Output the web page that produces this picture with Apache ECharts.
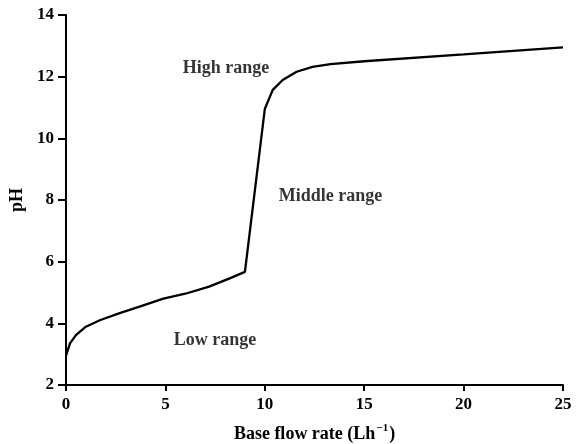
<!DOCTYPE html>
<html>
<head>
<meta charset="utf-8">
<script src="https://cdn.jsdelivr.net/npm/echarts@6/dist/echarts.min.js"></script>
<style>
  html, body { margin: 0; padding: 0; background: #fff; }
  #chart { width: 579px; height: 444px; }
</style>
</head>
<body>
<div id="chart"></div>
<script>
// base flow rate (L/h) and pH
const flowRate = [0, 0.2, 0.5, 1, 1.7, 2.7, 3.7, 4.9, 6, 7.2, 8.2, 9, 10, 10.4, 10.9, 11.6, 12.4, 13.3, 15, 20, 25]
const phValues = [2.95, 3.35, 3.62, 3.89, 4.1, 4.33, 4.54, 4.8, 4.96, 5.19, 5.45, 5.67, 10.95, 11.57, 11.89, 12.16, 12.32, 12.41, 12.5, 12.72, 12.95]

// region labels, placed in data coordinates
const regionNames = ['High range', 'Middle range', 'Low range']
const regionX = [8.05, 13.3, 7.5]
const regionY = [12.28, 8.13, 3.46]

const xTicks = [0, 5, 10, 15, 20, 25]
const yTicks = [2, 4, 6, 8, 10, 12, 14]

const font = 'Liberation Serif'
const chart = echarts.init(document.getElementById('chart'))

const lineData = flowRate.map((x, i) => [x, phValues[i]])
const labelData = regionNames.map((name, i) => ({ name, value: [regionX[i], regionY[i]] }))

chart.setOption({
  animation: false,
  grid: { left: 66, right: 16, top: 15, bottom: 59, outerBoundsMode: 'none', containLabel: false },
  xAxis: {
    type: 'value',
    min: xTicks[0],
    max: xTicks[xTicks.length - 1],
    interval: 5,
    name: 'Base flow rate (Lh{sup|−1})',
    nameLocation: 'middle',
    nameGap: 38,
    nameTextStyle: {
      fontFamily: font, fontSize: 18, fontWeight: 'bold', color: '#000',
      rich: { sup: { fontFamily: font, fontSize: 11, fontWeight: 'bold', color: '#000', verticalAlign: 'top', padding: [0, 1, 11, 1] } }
    },
    axisLine: { lineStyle: { color: '#000', width: 2 } },
    axisTick: { show: true, length: 6, lineStyle: { color: '#000', width: 2 } },
    axisLabel: { fontFamily: font, fontSize: 17, fontWeight: 'bold', color: '#000', margin: 11 },
    splitLine: { show: false }
  },
  yAxis: {
    type: 'value',
    min: yTicks[0],
    max: yTicks[yTicks.length - 1],
    interval: 2,
    name: 'pH',
    nameLocation: 'middle',
    nameGap: 38,
    nameTextStyle: { fontFamily: font, fontSize: 18, fontWeight: 'bold', color: '#000' },
    axisLine: { show: true, lineStyle: { color: '#000', width: 2 } },
    axisTick: { show: true, length: 8, lineStyle: { color: '#000', width: 2 } },
    axisLabel: { fontFamily: font, fontSize: 17, fontWeight: 'bold', color: '#000', margin: 12 },
    splitLine: { show: false }
  },
  series: [
    {
      type: 'line',
      data: lineData,
      showSymbol: false,
      smooth: false,
      lineStyle: { color: '#000', width: 2.3 }
    },
    {
      type: 'scatter',
      data: labelData,
      symbolSize: 0,
      label: {
        show: true,
        position: 'inside',
        formatter: p => p.name,
        fontFamily: font,
        fontSize: 18,
        fontWeight: 'bold',
        color: '#000'
      }
    }
  ]
})
</script>
</body>
</html>
